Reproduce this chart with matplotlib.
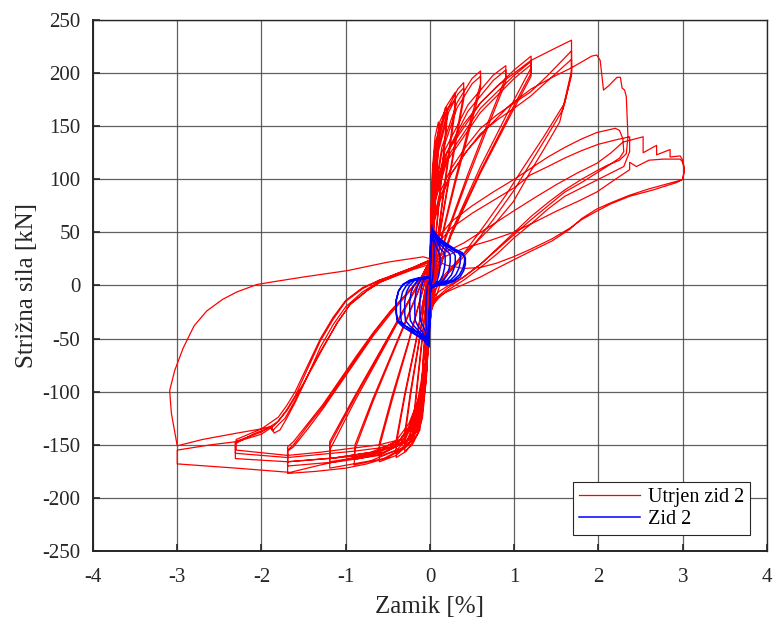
import matplotlib
matplotlib.use("Agg")
import matplotlib.pyplot as plt
import numpy as np

plt.rcParams['font.family'] = ['Liberation Serif', 'DejaVu Serif']
plt.rcParams['axes.unicode_minus'] = False

# ---------------- data: Utrjen zid 2 (red), drift [%] / force [kN] per cycle ----------------
r005a_d = [0.00, 0.01, 0.03, 0.05, 0.05, 0.035, 0.015, 0.00, -0.01, -0.03, -0.05, -0.05, -0.035, -0.015, 0.00]
r005a_f = [0, 45, 85, 105, 96, 62, 22, -5, -30, -52, -62, -56, -32, -5, 12]
r005b_d = [0.00, 0.01, 0.03, 0.05, 0.05, 0.035, 0.015, 0.00, -0.01, -0.03, -0.05, -0.05, -0.035, -0.015, 0.00]
r005b_f = [12, 50, 82, 98, 90, 58, 20, -6, -28, -48, -58, -52, -30, -4, 14]

r010a_d = [0.00, 0.01, 0.03, 0.06, 0.10, 0.10, 0.08, 0.05, 0.02, 0.00, -0.02, -0.05, -0.08, -0.10, -0.10, -0.08, -0.05, -0.02, 0.00]
r010a_f = [14, 60, 110, 140, 154, 143, 108, 62, 18, -15, -52, -88, -105, -112, -102, -72, -38, -2, 16]
r010b_d = [0.00, 0.01, 0.03, 0.06, 0.10, 0.10, 0.08, 0.05, 0.02, 0.00, -0.02, -0.05, -0.08, -0.10, -0.10, -0.08, -0.05, -0.02, 0.00]
r010b_f = [16, 62, 105, 133, 145, 135, 100, 58, 16, -15, -50, -82, -98, -104, -95, -66, -34, 0, 17]

r020a_d = [0.00, 0.02, 0.06, 0.12, 0.20, 0.20, 0.16, 0.10, 0.04, 0.01, -0.01, -0.04, -0.09, -0.15, -0.20, -0.20, -0.15, -0.09, -0.03, 0.00]
r020a_f = [17, 75, 125, 155, 168, 160, 124, 74, 24, -5, -38, -85, -125, -140, -146, -135, -95, -50, -5, 18]
r020b_d = [0.00, 0.02, 0.06, 0.12, 0.20, 0.20, 0.16, 0.10, 0.04, 0.01, -0.01, -0.04, -0.09, -0.15, -0.20, -0.20, -0.15, -0.09, -0.03, 0.00]
r020b_f = [18, 72, 120, 150, 163, 154, 119, 70, 22, -6, -36, -80, -120, -134, -140, -129, -90, -47, -4, 18]

r030a_d = [0.00, 0.02, 0.08, 0.18, 0.30, 0.30, 0.24, 0.15, 0.06, 0.01, -0.01, -0.05, -0.12, -0.21, -0.30, -0.30, -0.23, -0.13, -0.05, 0.00]
r030a_f = [18, 75, 133, 167, 182, 172, 136, 82, 26, -6, -40, -92, -136, -150, -156, -144, -103, -54, -6, 19]
r030b_d = [0.00, 0.02, 0.08, 0.18, 0.30, 0.30, 0.24, 0.15, 0.06, 0.01, -0.01, -0.05, -0.12, -0.21, -0.30, -0.30, -0.23, -0.13, -0.05, 0.00]
r030b_f = [19, 72, 128, 162, 176, 166, 131, 78, 24, -7, -38, -88, -131, -145, -151, -139, -99, -52, -5, 19]

r040a_d = [0.00, 0.03, 0.10, 0.22, 0.33, 0.40, 0.40, 0.32, 0.20, 0.08, 0.01, -0.01, -0.06, -0.15, -0.28, -0.40, -0.40, -0.30, -0.17, -0.06, 0.00]
r040a_f = [19, 80, 130, 168, 185, 191, 180, 145, 90, 33, -7, -42, -96, -140, -156, -162, -149, -105, -55, -6, 20]
r040b_d = [0.00, 0.03, 0.10, 0.22, 0.33, 0.40, 0.40, 0.32, 0.20, 0.08, 0.01, -0.01, -0.06, -0.15, -0.28, -0.40, -0.40, -0.30, -0.17, -0.06, 0.00]
r040b_f = [20, 76, 126, 163, 180, 186, 175, 141, 87, 31, -8, -40, -92, -136, -152, -158, -145, -102, -53, -5, 20]

r060a_d = [0.00, 0.04, 0.14, 0.32, 0.50, 0.60, 0.60, 0.48, 0.30, 0.12, 0.02, -0.01, -0.07, -0.20, -0.40, -0.60, -0.60, -0.45, -0.26, -0.09, 0.00]
r060a_f = [20, 80, 130, 172, 195, 202, 190, 155, 100, 40, -4, -45, -100, -145, -160, -166, -152, -108, -56, -6, 21]
r060b_d = [0.00, 0.04, 0.14, 0.32, 0.50, 0.60, 0.60, 0.48, 0.30, 0.12, 0.02, -0.01, -0.07, -0.20, -0.40, -0.60, -0.60, -0.45, -0.26, -0.09, 0.00]
r060b_f = [21, 76, 125, 167, 190, 197, 185, 150, 96, 38, -5, -42, -96, -140, -155, -161, -148, -104, -54, -5, 21]

r090a_d = [0.00, 0.05, 0.18, 0.45, 0.75, 0.90, 0.90, 0.72, 0.45, 0.18, 0.03, -0.01, -0.08, -0.25, -0.55, -0.90, -0.89, -0.68, -0.40, -0.14, 0.00]
r090a_f = [21, 82, 128, 170, 198, 207, 196, 160, 105, 45, 0, -45, -105, -150, -163, -169, -154, -110, -56, -6, 22]
r090b_d = [0.00, 0.05, 0.18, 0.45, 0.75, 0.90, 0.90, 0.72, 0.45, 0.18, 0.03, -0.01, -0.08, -0.25, -0.55, -0.90, -0.89, -0.68, -0.40, -0.14, 0.00]
r090b_f = [22, 78, 122, 164, 193, 203, 192, 156, 101, 43, -1, -42, -100, -145, -158, -164, -150, -107, -54, -5, 22]

r120a_d = [0.00, 0.05, 0.20, 0.60, 1.00, 1.20, 1.20, 1.00, 0.60, 0.25, 0.05, -0.01, -0.09, -0.30, -0.70, -1.19, -1.19, -0.90, -0.52, -0.18, 0.00]
r120a_f = [22, 80, 125, 172, 203, 216, 205, 175, 112, 50, 3, -45, -108, -152, -165, -172, -155, -110, -55, -5, 23]
r120b_d = [0.00, 0.05, 0.20, 0.60, 1.00, 1.20, 1.20, 1.00, 0.60, 0.25, 0.05, -0.01, -0.09, -0.30, -0.70, -1.19, -1.19, -0.90, -0.52, -0.18, 0.00]
r120b_f = [23, 78, 120, 167, 198, 211, 200, 170, 108, 48, 2, -43, -103, -147, -160, -166, -150, -107, -53, -4, 23]
r120c_d = [0.00, 0.05, 0.20, 0.60, 1.00, 1.20, 1.20, 1.00, 0.60, 0.25, 0.05, -0.01, -0.09, -0.30, -0.70, -1.19, -1.19, -0.90, -0.52, -0.18, 0.00]
r120c_f = [23, 76, 117, 163, 195, 208, 197, 167, 106, 47, 1, -42, -100, -144, -157, -163, -147, -105, -52, -4, 24]

r170a_d = [0.00, 0.02, 0.05, 0.10, 0.20, 0.40, 0.60, 0.80, 1.00, 1.20, 1.45, 1.68, 1.68, 1.60, 1.35, 1.10, 0.90, 0.65, 0.40, 0.20, 0.05, 0.00,
           -0.02, -0.05, -0.10, -0.20, -0.35, -0.50, -0.75, -1.00, -1.35, -1.69, -1.69, -1.62, -1.45, -1.27, -1.07, -0.87, -0.67, -0.47, -0.28, -0.10, 0.00]
r170a_f = [24, 55, 80, 102, 125, 152, 172, 188, 200, 212, 222, 231, 200, 172, 140, 110, 85, 57, 30, 10, -5, -30,
           -60, -90, -118, -140, -155, -162, -168, -172, -175, -177, -156, -152, -135, -116, -93, -70, -47, -27, -9, 8, 22]
r170b_d = [0.00, 0.02, 0.05, 0.12, 0.25, 0.42, 0.60, 0.80, 1.00, 1.19, 1.40, 1.68, 1.68, 1.54, 1.35, 1.19, 0.99, 0.79, 0.59, 0.39, 0.15, 0.00,
           -0.02, -0.05, -0.12, -0.25, -0.40, -0.60, -0.85, -1.10, -1.40, -1.69, -1.69, -1.62, -1.45, -1.27, -1.07, -0.87, -0.67, -0.47, -0.28, -0.10, 0.00]
r170b_f = [22, 45, 65, 88, 110, 130, 148, 161, 172, 182, 198, 221, 202, 154, 128, 107, 79, 60, 44, 29, 8, -28,
           -52, -75, -108, -135, -150, -160, -163, -166, -168, -170, -155, -150, -132, -114, -91, -68, -45, -25, -8, 8, 22]
r170c_d = [0.00, 0.02, 0.05, 0.12, 0.25, 0.42, 0.60, 0.80, 1.00, 1.19, 1.40, 1.68, 1.68, 1.58, 1.40, 1.20, 1.00, 0.75, 0.50, 0.25, 0.08, 0.00,
           -0.02, -0.05, -0.12, -0.25, -0.40, -0.60, -0.85, -1.10, -1.40, -1.69, -1.69, -1.62, -1.45, -1.27, -1.07, -0.87, -0.67, -0.47, -0.28, -0.10, 0.00]
r170c_f = [22, 43, 62, 84, 105, 125, 143, 156, 167, 178, 193, 213, 198, 166, 142, 116, 90, 62, 36, 14, 0, -28,
           -50, -72, -104, -130, -146, -156, -159, -162, -164, -166, -152, -147, -130, -112, -89, -66, -44, -24, -8, 8, 23]

r230a_d = [0.00, 0.02, 0.05, 0.12, 0.25, 0.45, 0.70, 0.95, 1.20, 1.45, 1.68, 1.92, 1.98, 2.02, 2.06, 2.12, 2.22, 2.26, 2.28, 2.31, 2.33, 2.35, 2.33,
           2.25, 2.10, 1.98, 1.80, 1.60, 1.40, 1.20, 1.00, 0.80, 0.60, 0.40, 0.20, 0.10, 0.00,
           -0.03, -0.07, -0.12, -0.22, -0.35, -0.55, -0.80, -1.20, -1.69, -2.31, -2.31, -2.10, -1.88, -1.85, -1.78, -1.70,
           -1.60, -1.45, -1.30, -1.15, -1.00, -0.80, -0.60, -0.40, -0.20, 0.00]
r230a_f = [23, 45, 60, 80, 105, 128, 150, 170, 185, 196, 205, 216, 217, 212, 184, 188, 196, 196, 186, 184, 178, 140, 124,
           118, 113, 108, 100, 90, 78, 65, 50, 35, 20, 8, -1, -6, -15,
           -55, -85, -110, -133, -150, -157, -160, -163, -166, -163, -149, -140, -133, -139, -136, -125,
           -110, -85, -58, -37, -20, -6, 4, 11, 17, 24]
r230b_d = [0.00, 0.05, 0.10, 0.25, 0.50, 0.75, 1.00, 1.19, 1.40, 1.60, 1.80, 1.98, 2.20, 2.25, 2.29, 2.30,
           2.25, 2.10, 1.98, 1.80, 1.60, 1.40, 1.20, 1.00, 0.80, 0.60, 0.40, 0.20, 0.10, 0.00,
           -0.03, -0.07, -0.12, -0.22, -0.35, -0.60, -0.90, -1.30, -1.69, -2.31, -2.31, -2.00, -1.80, -1.70,
           -1.60, -1.45, -1.30, -1.15, -1.00, -0.80, -0.60, -0.40, -0.20, 0.00]
r230b_f = [24, 36, 45, 60, 75, 88, 100, 110, 121, 130, 138, 144, 148, 146, 138, 126,
           120, 112, 106, 97, 88, 75, 62, 48, 34, 20, 8, -3, -10, -22,
           -60, -88, -112, -134, -148, -153, -156, -159, -162, -158, -147, -138, -128, -117,
           -104, -78, -52, -32, -15, -3, 5, 11, 17, 24]
r230c_d = [0.00, 0.05, 0.10, 0.25, 0.50, 0.75, 1.00, 1.19, 1.40, 1.60, 1.80, 2.00, 2.20, 2.37, 2.37,
           2.30, 2.15, 2.00, 1.80, 1.60, 1.40, 1.20, 1.00, 0.80, 0.60, 0.40, 0.20, 0.10, 0.00,
           -0.03, -0.07, -0.12, -0.22, -0.35, -0.60, -0.90, -1.30, -1.69, -2.30, -2.30, -2.00, -1.80, -1.70,
           -1.60, -1.45, -1.30, -1.15, -1.00, -0.80, -0.60, -0.40, -0.20, 0.00]
r230c_f = [24, 33, 40, 54, 68, 80, 92, 104, 112, 120, 127, 133, 137, 140, 126,
           112, 106, 100, 92, 84, 72, 58, 45, 30, 17, 5, -5, -12, -22,
           -58, -85, -108, -130, -145, -150, -153, -157, -160, -155, -145, -135, -124, -113,
           -100, -75, -50, -30, -14, -2, 5, 10, 16, 23]

r300a_d = [0.00, 0.20, 0.40, 0.70, 0.99, 1.25, 1.50, 1.75, 1.98, 2.15, 2.29, 2.53, 2.53, 2.69, 2.69, 2.85, 2.85, 2.97, 3.00, 3.02, 3.00,
           2.93, 2.65, 2.37, 2.15, 1.98, 1.80, 1.66, 1.45, 1.19, 0.99, 0.79, 0.60, 0.40, 0.20, 0.05,
           -0.08, -0.50, -0.98, -1.50, -1.82, -2.05, -2.29, -2.46, -2.65, -2.80, -2.93, -3.03, -3.09, -3.07, -3.03, -3.00,
           -2.70, -2.29, -2.00, -1.90, -1.87, -1.80, -1.72, -1.60, -1.45, -1.27, -1.10, -0.95, -0.75, -0.59, -0.30, 0.00]
r300a_f = [23, 32, 40, 55, 70, 83, 95, 106, 115, 125, 135, 140, 125, 132, 123, 128, 121, 122, 118, 110, 100,
           97, 90, 84, 77, 70, 62, 54, 44, 34, 27, 21, 17, 16, 19, 24,
           27, 22, 14, 8, 4, 1, -6, -13, -24, -38, -59, -80, -99, -120, -138, -151,
           -145, -139, -135, -133, -137, -131, -125, -108, -85, -59, -35, -18, -5, 3, 13, 22]
r300b_d = [0.00, 0.20, 0.40, 0.70, 0.99, 1.25, 1.50, 1.75, 1.98, 2.20, 2.37, 2.37, 2.45, 2.60, 2.77, 2.97, 3.00, 3.02, 3.00,
           2.97, 2.60, 2.37, 2.15, 1.98, 1.80, 1.66, 1.45, 1.19, 0.99, 0.79, 0.60, 0.40, 0.20, 0.05, 0.00,
           -0.02, -0.05, -0.10, -0.15, -0.25, -0.40, -0.70, -1.00, -1.30, -1.66, -2.30, -3.00, -3.00,
           -2.60, -2.29, -2.00, -1.85, -1.70, -1.50, -1.30, -1.10, -0.95, -0.75, -0.60, -0.40, -0.20, 0.00]
r300b_f = [22, 28, 35, 42, 50, 60, 70, 79, 88, 100, 109, 116, 112, 118, 119, 119, 116, 108, 100,
           99, 91, 85, 78, 72, 63, 53, 42, 32, 24, 16, 8, 1, -6, -13, -18,
           -40, -60, -88, -110, -133, -150, -158, -164, -169, -176, -172, -168, -155,
           -150, -147, -140, -132, -118, -92, -62, -35, -18, -5, 3, 9, 15, 20]

# ---------------- data: Zid 2 (blue), drift [%] / force [kN] per cycle ----------------
b1_d = [0.00, 0.01, 0.02, 0.035, 0.05, 0.045, 0.03, 0.01, 0.00, -0.005, -0.01, -0.03, -0.05, -0.045, -0.03, -0.01, 0.00]
b1_f = [0, 35, 57, 45, 32, 18, 6, 0, -5, -35, -58, -45, -32, -12, 0, 4, 5]
b2_d = [0.00, 0.005, 0.012, 0.025, 0.045, 0.06, 0.088, 0.112, 0.12, 0.12, 0.114, 0.102, 0.082, 0.053, 0.024, 0.006, 0.00,
        -0.005, -0.01, -0.03, -0.045, -0.06, -0.096, -0.116, -0.12, -0.12, -0.112, -0.096, -0.072, -0.042, -0.014, 0.00]
b2_f = [5, 25, 40, 48, 45, 40, 34, 30, 26, 20, 14, 9, 4, 1, 0, -2, -8,
        -30, -46, -50, -47, -42, -36, -32, -26, -15, -6, 0, 5, 7, 8, 8]
b3_d = [0.00, 0.005, 0.012, 0.025, 0.045, 0.07, 0.09, 0.131, 0.167, 0.18, 0.18, 0.171, 0.153, 0.122, 0.079, 0.036, 0.009, 0.00,
        -0.005, -0.01, -0.03, -0.06, -0.09, -0.144, -0.175, -0.18, -0.18, -0.167, -0.144, -0.108, -0.063, -0.022, 0.00]
b3_f = [8, 25, 40, 50, 49, 44, 40, 34, 31, 28, 22, 16, 10, 5, 2, 0, -2, -8,
        -30, -48, -53, -49, -44, -38, -33, -26, -15, -6, 0, 5, 7, 8, 8]
b4_d = [0.00, 0.005, 0.012, 0.025, 0.045, 0.07, 0.12, 0.175, 0.223, 0.24, 0.24, 0.228, 0.204, 0.163, 0.106, 0.048, 0.012, 0.00,
        -0.005, -0.01, -0.03, -0.07, -0.12, -0.192, -0.233, -0.24, -0.24, -0.223, -0.192, -0.144, -0.084, -0.029, 0.00]
b4_f = [8, 25, 40, 50, 49, 45, 39, 34, 31, 28, 22, 16, 10, 5, 2, 0, -2, -8,
        -30, -48, -54, -50, -44, -38, -33, -26, -15, -6, 0, 5, 7, 8, 8]
b5_d = [0.00, 0.005, 0.012, 0.025, 0.05, 0.075, 0.15, 0.219, 0.279, 0.30, 0.30, 0.285, 0.255, 0.204, 0.132, 0.06, 0.015, 0.00,
        -0.005, -0.01, -0.03, -0.08, -0.15, -0.24, -0.291, -0.30, -0.30, -0.279, -0.24, -0.18, -0.105, -0.036, 0.00]
b5_f = [8, 26, 41, 51, 50, 45, 39, 34, 31, 28, 22, 16, 10, 5, 2, 0, -2, -8,
        -30, -48, -54, -50, -44, -38, -33, -26, -15, -6, 0, 5, 7, 8, 8]
b6_d = [0.00, 0.005, 0.012, 0.025, 0.05, 0.09, 0.18, 0.263, 0.335, 0.36, 0.36, 0.342, 0.306, 0.245, 0.158, 0.072, 0.018, 0.00,
        -0.005, -0.01, -0.03, -0.08, -0.175, -0.28, -0.34, -0.35, -0.35, -0.326, -0.28, -0.21, -0.123, -0.042, 0.00]
b6_f = [8, 26, 42, 52, 50, 45, 39, 34, 31, 28, 22, 16, 10, 5, 2, 0, -2, -8,
        -31, -50, -55, -51, -45, -39, -34, -27, -15, -6, 0, 5, 7, 8, 8]
b7_d = [0.00, 0.005, 0.012, 0.025, 0.05, 0.103, 0.205, 0.30, 0.381, 0.41, 0.41, 0.39, 0.349, 0.279, 0.18, 0.082, 0.02, 0.00,
        -0.005, -0.01, -0.03, -0.08, -0.20, -0.32, -0.388, -0.40, -0.40, -0.372, -0.32, -0.24, -0.14, -0.048, 0.00]
b7_f = [8, 27, 43, 53, 51, 45, 39, 34, 31, 28, 22, 16, 10, 5, 2, 0, -2, -8,
        -31, -50, -56, -51, -45, -39, -34, -27, -14, -5, 1, 5, 7, 8, 8]
b8_d = [0.00, 0.005, 0.012, 0.025, 0.05, 0.105, 0.21, 0.306, 0.39, 0.42, 0.42, 0.40, 0.357, 0.286, 0.185, 0.084, 0.021, 0.00,
        -0.005, -0.01, -0.03, -0.08, -0.20, -0.32, -0.388, -0.40, -0.40, -0.372, -0.32, -0.24, -0.14, -0.048, 0.00]
b8_f = [8, 24, 39, 48, 47, 42, 37, 32, 29, 26, 20, 14, 8, 4, 1, 0, -2, -7,
        -28, -45, -50, -47, -42, -37, -32, -25, -13, -5, 1, 4, 6, 7, 7]

x_ticks = [-4, -3, -2, -1, 0, 1, 2, 3, 4]
y_ticks = [-250, -200, -150, -100, -50, 0, 50, 100, 150, 200, 250]
x_label = "Zamik [%]"
y_label = "Strižna sila [kN]"
legend_labels = ["Utrjen zid 2", "Zid 2"]

red_cycles = [(r005a_d, r005a_f), (r005b_d, r005b_f), (r010a_d, r010a_f), (r010b_d, r010b_f),
              (r020a_d, r020a_f), (r020b_d, r020b_f), (r030a_d, r030a_f), (r030b_d, r030b_f),
              (r040a_d, r040a_f), (r040b_d, r040b_f), (r060a_d, r060a_f), (r060b_d, r060b_f),
              (r090a_d, r090a_f), (r090b_d, r090b_f), (r120a_d, r120a_f), (r120b_d, r120b_f),
              (r120c_d, r120c_f), (r170a_d, r170a_f), (r170b_d, r170b_f), (r170c_d, r170c_f),
              (r230a_d, r230a_f), (r230b_d, r230b_f), (r230c_d, r230c_f), (r300a_d, r300a_f),
              (r300b_d, r300b_f)]
blue_cycles = [(b1_d, b1_f), (b2_d, b2_f), (b3_d, b3_f), (b4_d, b4_f),
               (b5_d, b5_f), (b6_d, b6_f), (b7_d, b7_f), (b8_d, b8_f)]

red_d = np.concatenate([c[0] for c in red_cycles])
red_f = np.concatenate([c[1] for c in red_cycles])
blue_d = np.concatenate([c[0] for c in blue_cycles])
blue_f = np.concatenate([c[1] for c in blue_cycles])

fig = plt.figure(figsize=(7.73, 6.17), dpi=100)
ax = fig.add_axes([0.1203, 0.107, 0.8719, 0.8606])

ax.plot(red_d, red_f, color='#ff0000', lw=0.9, label=legend_labels[0], zorder=3, solid_joinstyle='round')
ax.plot(blue_d, blue_f, color='#0000ff', lw=1.1, label=legend_labels[1], zorder=4, solid_joinstyle='round')

ax.set_xlim(-4, 4)
ax.set_ylim(-250, 250)
ax.set_xticks(x_ticks)
ax.set_yticks(y_ticks)
ax.grid(True, color='#444444', lw=0.9, alpha=0.85, zorder=0)
ax.set_axisbelow(True)
for s in ax.spines.values():
    s.set_color('#262626')
    s.set_linewidth(1.0)
ax.spines['left'].set_linewidth(1.4)
ax.spines['bottom'].set_linewidth(1.4)
ax.tick_params(direction='in', length=5, width=1.2, colors='#262626', labelsize=15, pad=9)
ax.tick_params(axis='x', pad=12)
for lab in ax.get_xticklabels() + ax.get_yticklabels():
    lab.set_color('#262626')

ax.set_xlabel(x_label, fontsize=18, color='#262626', labelpad=7)
ax.set_ylabel(y_label, fontsize=18, color='#262626', labelpad=3)

leg = ax.legend(loc='lower right', bbox_to_anchor=(0.975, 0.03), fontsize=14.5, frameon=True, fancybox=False,
                framealpha=1, edgecolor='#262626', borderpad=0.3, handlelength=3.0, handletextpad=0.4,
                labelspacing=0.15, borderaxespad=0.0)
leg.get_frame().set_linewidth(0.8)

fig.savefig('out.png', dpi=100)
